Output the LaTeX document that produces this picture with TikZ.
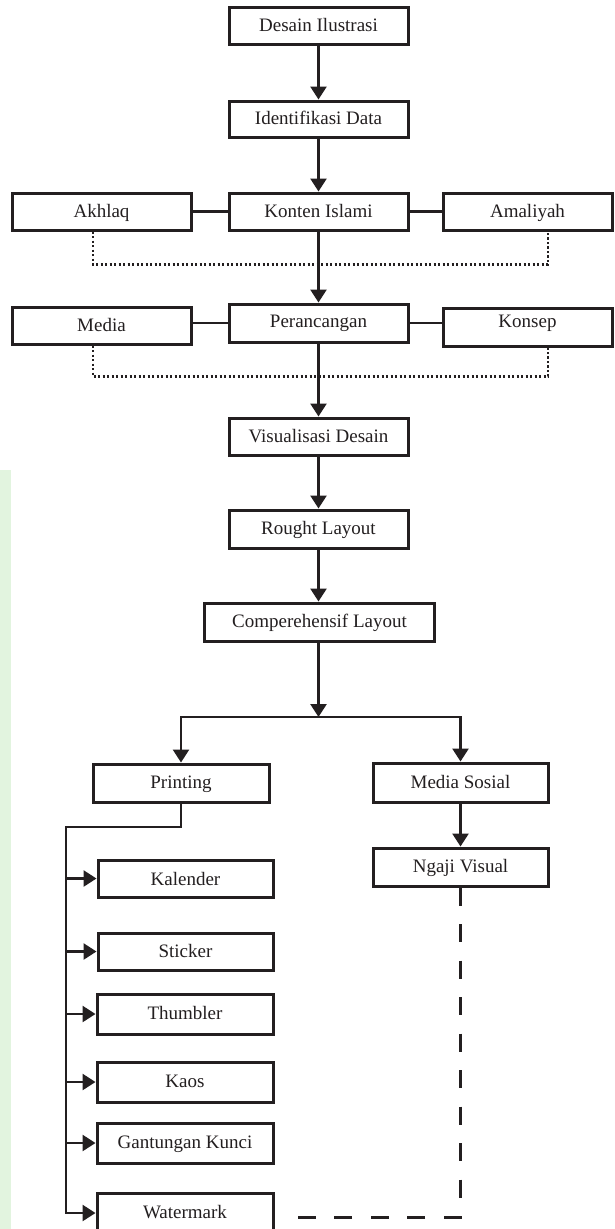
\documentclass[tikz,border=0pt]{standalone}
\usepackage{fontspec}
\setmainfont{Liberation Serif}
\usetikzlibrary{arrows.meta}
\definecolor{ink}{HTML}{231F20}
\definecolor{paleg}{HTML}{E2F4DF}
\begin{document}
\begin{tikzpicture}[x=1pt,y=-1pt,
  box/.style={draw=ink,line width=3pt,rectangle,inner sep=0pt,text=ink,
    text height=14pt,text depth=3pt,
    font=\fontsize{19}{22}\selectfont},
  conn/.style={draw=ink,line width=2.6pt},
  arr/.style={conn,-{Triangle[width=16pt,length=13pt]}},
  dotline/.style={draw=ink,line width=2.6pt,dash pattern=on 2.2pt off 2.3pt},
  dashline/.style={draw=ink,line width=3pt,dash pattern=on 18pt off 18.5pt}]
\useasboundingbox[fill=white] (0,0) rectangle (615,1229);
\fill[paleg] (0,470) rectangle (11,1229);
% boxes
\node[box,minimum width=179pt,minimum height=37pt] (desain) at (318.5,25.5) {Desain Ilustrasi};
\node[box,minimum width=179pt,minimum height=36pt] (ident) at (318.5,119) {Identifikasi Data};
\node[box,minimum width=179pt,minimum height=37pt] (konten) at (318.5,211.5) {Konten Islami};
\node[box,minimum width=179pt,minimum height=37pt] (akhlaq) at (101.5,211.5) {Akhlaq};
\node[box,minimum width=169pt,minimum height=37pt] (amaliyah) at (527.5,211.5) {Amaliyah};
\node[box,minimum width=179pt,minimum height=38pt,text height=12pt,text depth=4pt] (peranc) at (318.5,323) {Perancangan};
\node[box,minimum width=179pt,minimum height=37pt] (media) at (101.5,325.5) {Media};
\node[box,minimum width=169pt,minimum height=38pt,text height=10pt,text depth=10pt] (konsep) at (527.5,327) {Konsep};
\node[box,minimum width=179pt,minimum height=37pt] (visual) at (318.5,436.5) {Visualisasi Desain};
\node[box,minimum width=179pt,minimum height=38pt] (rought) at (318.5,529) {Rought Layout};
\node[box,minimum width=230pt,minimum height=38pt] (compre) at (319.5,622) {Comperehensif Layout};
\node[box,minimum width=176pt,minimum height=38pt] (printing) at (181,783) {Printing};
\node[box,minimum width=175pt,minimum height=39pt] (medsos) at (460.5,782.5) {Media Sosial};
\node[box,minimum width=175pt,minimum height=38pt] (ngaji) at (460.5,867) {Ngaji Visual};
\node[box,minimum width=175pt,minimum height=37pt,text height=15pt,text depth=2pt] (kalender) at (185.5,878.5) {Kalender};
\node[box,minimum width=175pt,minimum height=37pt] (sticker) at (185.5,951.5) {Sticker};
\node[box,minimum width=176pt,minimum height=40pt] (thumbler) at (185,1014) {Thumbler};
\node[box,minimum width=176pt,minimum height=40pt] (kaos) at (185,1082) {Kaos};
\node[box,minimum width=176pt,minimum height=40pt] (gantungan) at (185,1143) {Gantungan Kunci};
\node[box,minimum width=176pt,minimum height=40pt] (watermark) at (185,1213) {Watermark};
% connectors
\draw[arr] (desain.south) -- (ident.north);
\draw[arr] (ident.south) -- (konten.north);
\draw[conn] (akhlaq.east) -- (konten.west);
\draw[conn] (konten.east) -- (amaliyah.west);
\draw[dotline] ([xshift=-8.5pt]akhlaq.south) -- ++(0,33) -| ([xshift=20.5pt]amaliyah.south);
\draw[arr] (konten.south) -- (peranc.north);
\draw[conn] (peranc.west) -- (media.east |- peranc.west);
\draw[conn] (peranc.east) -- (konsep.west |- peranc.east);
\draw[dotline] ([xshift=-8.5pt]media.south) -- ++(0,31) -| ([xshift=20.5pt]konsep.south);
\draw[arr] (peranc.south) -- (visual.north);
\draw[arr] (visual.south) -- (rought.north);
\draw[arr] (rought.south) -- (rought.south |- compre.north);
\coordinate (j) at (318.5,717);
\draw[arr] (compre.south -| j) -- (j);
\draw[arr] (j) -| (printing.north);
\draw[arr] (j) -| (medsos.north);
\draw[arr] (medsos.south) -- (ngaji.north);
\coordinate (sp) at (66,827);
\draw[arr] (printing.south) |- (sp) |- (watermark.west);
\draw[arr] (sp |- kalender.west) -- (kalender.west);
\draw[arr] (sp |- sticker.west) -- (sticker.west);
\draw[arr] (sp |- thumbler.west) -- (thumbler.west);
\draw[arr] (sp |- kaos.west) -- (kaos.west);
\draw[arr] (sp |- gantungan.west) -- (gantungan.west);
\draw[dashline] (ngaji.south) |- ([xshift=7pt,yshift=-4pt]watermark.east);
\end{tikzpicture}
\end{document}
